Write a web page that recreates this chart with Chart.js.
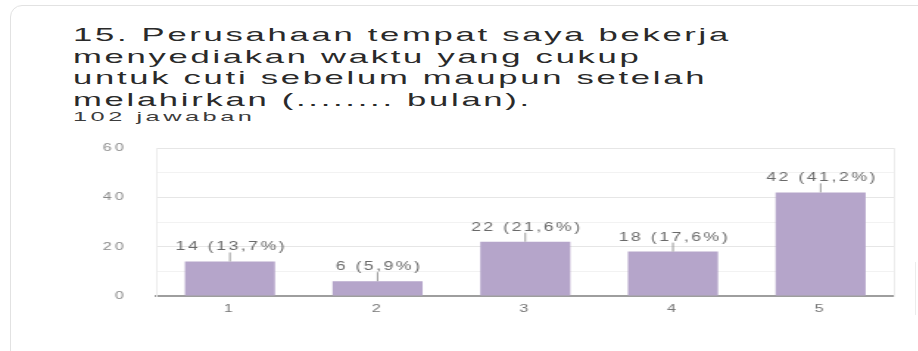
<!DOCTYPE html>
<html>
<head>
<meta charset="utf-8">
<script src="https://cdn.jsdelivr.net/npm/chart.js@4.4.1/dist/chart.umd.min.js"></script>
<style>
  html, body { margin: 0; padding: 0; background: #ffffff; width: 918px; height: 351px; overflow: hidden; }
  #card { position: absolute; left: 10px; top: 5px; width: 940px; height: 400px; border: 1px solid #e2e2e2; border-radius: 12px; box-sizing: border-box; }
  #edge { position: absolute; left: 915px; top: 262px; width: 0; height: 53px; border-left: 1px solid #ececec; }
  .tline { position: absolute; left: 73px; font-family: "Liberation Sans", Arial, sans-serif; color: #2a2a2a; white-space: nowrap; transform-origin: 0 0; transform: scaleX(1.82); }
  .t { font-size: 19px; line-height: 21px; letter-spacing: 1.5px; }
  .sub { font-size: 13px; line-height: 16px; letter-spacing: 1.8px; color: #3c3c3c; transform: scaleX(1.95); }
  #wrap { position: absolute; left: 0; top: 130px; width: 624.5px; height: 221px; transform-origin: 0 0; transform: scaleX(1.47); }
</style>
</head>
<body>
<div id="card"></div>
<div id="edge"></div>
<div class="tline t" style="top:24px">15. Perusahaan tempat saya bekerja</div>
<div class="tline t" style="top:45.5px">menyediakan waktu yang cukup</div>
<div class="tline t" style="top:67px">untuk cuti sebelum maupun setelah</div>
<div class="tline t" style="top:88.5px">melahirkan (........ bulan).</div>
<div class="tline sub" style="top:109px">102 jawaban</div>
<div id="wrap"><canvas id="c"></canvas></div>
<script>
const categories = ['1', '2', '3', '4', '5'];
const counts = [14, 6, 22, 18, 42];
const percents = ['13,7%', '5,9%', '21,6%', '17,6%', '41,2%'];
const yTicks = [0, 20, 40, 60];

const barLabels = {
  id: 'barLabels',
  afterDatasetsDraw(chart) {
    const ctx = chart.ctx;
    const meta = chart.getDatasetMeta(0);
    ctx.save();
    ctx.letterSpacing = '1.7px';
    ctx.font = '12px "Liberation Sans", Arial, sans-serif';
    ctx.fillStyle = '#6a6a6a';
    ctx.strokeStyle = '#9a9a9a';
    ctx.lineWidth = 1;
    ctx.textAlign = 'center';
    ctx.textBaseline = 'alphabetic';
    meta.data.forEach((bar, i) => {
      ctx.beginPath();
      ctx.moveTo(bar.x, bar.y);
      ctx.lineTo(bar.x, bar.y - 9);
      ctx.stroke();
      ctx.fillText(counts[i] + ' (' + percents[i] + ')', bar.x + 1, bar.y - 11);
    });
    ctx.restore();
  }
};

const spacing = {
  id: 'spacing',
  beforeUpdate(chart) { chart.ctx.letterSpacing = '2px'; },
  beforeDraw(chart) { chart.ctx.letterSpacing = '2px'; }
};

new Chart(document.getElementById('c'), {
  type: 'bar',
  data: {
    labels: categories,
    datasets: [{
      data: counts,
      backgroundColor: '#b5a5ca',
      borderWidth: 0,
      barPercentage: 0.61,
      categoryPercentage: 1.0
    }]
  },
  options: {
    responsive: true,
    maintainAspectRatio: false,
    animation: false,
    events: [],
    layout: { padding: { left: 10, right: 17, top: 18, bottom: 15 } },
    plugins: { legend: { display: false }, tooltip: { enabled: false }, title: { display: false } },
    scales: {
      x: {
        grid: { display: false, drawTicks: false },
        border: { display: true, color: '#9e9e9e', width: 2 },
        ticks: { color: '#777777', font: { family: '"Liberation Sans", Arial, sans-serif', size: 11 }, padding: 6 },
        afterFit(axis) { axis.height = 40; }
      },
      y: {
        min: 0, max: 60,
        ticks: {
          stepSize: 10,
          color: '#8a8a8a',
          padding: 20,
          font: { family: '"Liberation Sans", Arial, sans-serif', size: 11 },
          callback: (v) => yTicks.includes(v) ? String(v) : ''
        },
        grid: {
          drawTicks: false,
          color: (c) => {
            const v = c.tick.value;
            if (v === 0) return 'rgba(0,0,0,0)';
            return (v % 20 === 0) ? '#e6e6e6' : '#f2f2f2';
          }
        },
        border: { display: true, color: '#ececec' },
        afterFit(axis) { axis.width = 96; axis.paddingTop = 0; axis.paddingBottom = 0; }
      },
      y2: {
        position: 'right',
        min: 0, max: 60,
        ticks: { display: false },
        grid: { display: false, drawTicks: false },
        border: { display: true, color: '#ececec' },
        afterFit(axis) { axis.width = 0; axis.paddingTop = 0; axis.paddingBottom = 0; }
      }
    }
  },
  plugins: [spacing, barLabels]
});
</script>
</body>
</html>
